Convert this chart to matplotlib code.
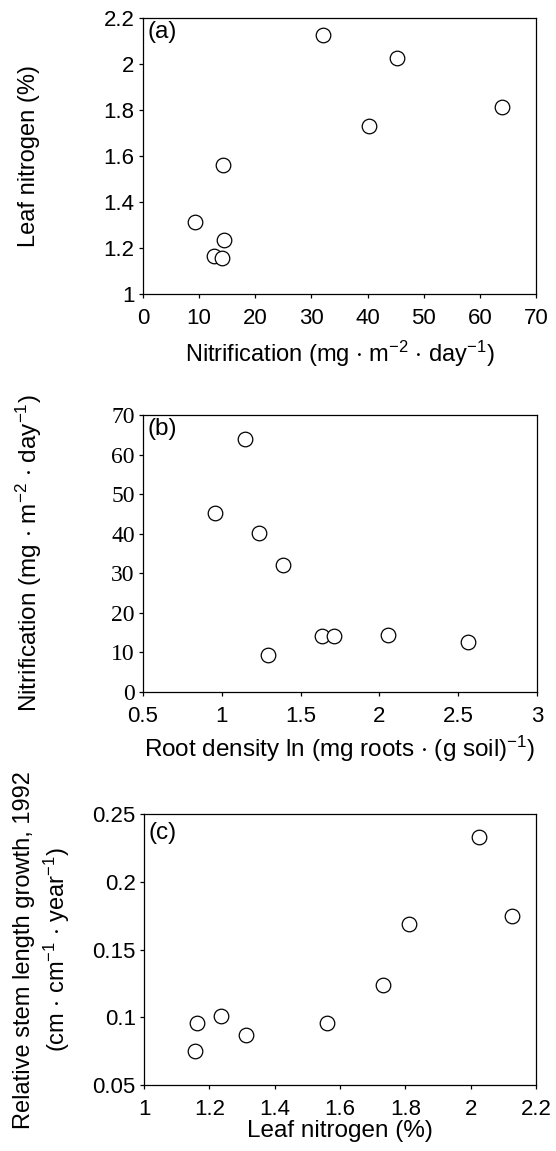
import matplotlib
matplotlib.use("Agg")
import matplotlib.pyplot as plt
from matplotlib.ticker import FuncFormatter

plt.rcParams['font.family'] = ['Liberation Sans', 'DejaVu Sans']
plt.rcParams['mathtext.fontset'] = 'custom'
plt.rcParams['mathtext.rm'] = 'Liberation Sans'
plt.rcParams['mathtext.default'] = 'regular'

# one value per site
nitrification = [32.0, 45.3, 64.0, 40.2, 14.2, 9.3, 14.4, 12.7, 14.1]
leaf_n = [2.128, 2.025, 1.812, 1.732, 1.559, 1.312, 1.235, 1.163, 1.156]
root_density = [1.39, 0.954, 1.148, 1.234, 1.636, 1.29, 2.054, 2.562, 1.713]
stem_growth = [0.175, 0.233, 0.169, 0.124, 0.0955, 0.087, 0.1006, 0.0955, 0.0748]

a_xticks = [0, 10, 20, 30, 40, 50, 60, 70]
a_yticks = [1, 1.2, 1.4, 1.6, 1.8, 2, 2.2]
b_xticks = [0.5, 1, 1.5, 2, 2.5, 3]
b_yticks = [0, 10, 20, 30, 40, 50, 60, 70]
c_xticks = [1, 1.2, 1.4, 1.6, 1.8, 2, 2.2]
c_yticks = [0.05, 0.1, 0.15, 0.2, 0.25]

fmt = FuncFormatter(lambda v, p: "%g" % v)
mk = dict(marker='o', ls='none', ms=10.5, mfc='white', mec='black', mew=0.9)

fig = plt.figure(figsize=(5.56, 11.51), dpi=100)


def style(ax, xt, yt, serif=False):
    ax.set_xticks(xt)
    ax.set_yticks(yt)
    ax.set_xlim(xt[0], xt[-1])
    ax.set_ylim(yt[0], yt[-1])
    ax.xaxis.set_major_formatter(fmt)
    ax.yaxis.set_major_formatter(fmt)
    ax.tick_params(direction='out', length=3, width=0.9, labelsize=16)
    ax.tick_params(axis='x', pad=7)
    ax.tick_params(axis='y', pad=3)
    for s in ax.spines.values():
        s.set_linewidth(0.9)
    if serif:
        for lab in ax.get_yticklabels():
            lab.set_family('Liberation Serif')
            lab.set_fontsize(17)


# (a)
ax1 = fig.add_axes([0.2572, 0.7446, 0.7068, 0.2398])
ax1.plot(nitrification, leaf_n, **mk)
style(ax1, a_xticks, a_yticks)
ax1.set_xlabel(r"Nitrification (mg $\cdot$ m$^{-2}$ $\cdot$ day$^{-1}$)", fontsize=17, labelpad=7)
ax1.set_ylabel("Leaf nitrogen (%)", fontsize=17)
ax1.yaxis.set_label_coords(-0.262, 0.5)
ax1.text(0.012, 0.99, "(a)", transform=ax1.transAxes, fontsize=17.5, va='top', ha='left')

# (b)
ax2 = fig.add_axes([0.2572, 0.3988, 0.7086, 0.2407])
ax2.plot(root_density, nitrification, **mk)
style(ax2, b_xticks, b_yticks, serif=True)
ax2.set_xlabel(r"Root density ln (mg roots $\cdot$ (g soil)$^{-1}$)", fontsize=17.5, labelpad=5)
ax2.set_ylabel(r"Nitrification (mg $\cdot$ m$^{-2}$ $\cdot$ day$^{-1}$)", fontsize=17.5)
ax2.yaxis.set_label_coords(-0.251, 0.5)
ax2.text(0.012, 0.99, "(b)", transform=ax2.transAxes, fontsize=17.5, va='top', ha='left')

# (c)
ax3 = fig.add_axes([0.259, 0.0573, 0.705, 0.2354])
ax3.plot(leaf_n, stem_growth, **mk)
style(ax3, c_xticks, c_yticks)
ax3.set_xlabel("Leaf nitrogen (%)", fontsize=17.5, labelpad=0)
ax3.set_ylabel("Relative stem length growth, 1992\n" + r"(cm $\cdot$ cm$^{-1}$ $\cdot$ year$^{-1}$)",
               fontsize=17, linespacing=1.3)
ax3.yaxis.set_label_coords(-0.184, 0.5)
ax3.text(0.012, 0.97, "(c)", transform=ax3.transAxes, fontsize=17.5, va='top', ha='left')

fig.savefig("out.png", dpi=100)
